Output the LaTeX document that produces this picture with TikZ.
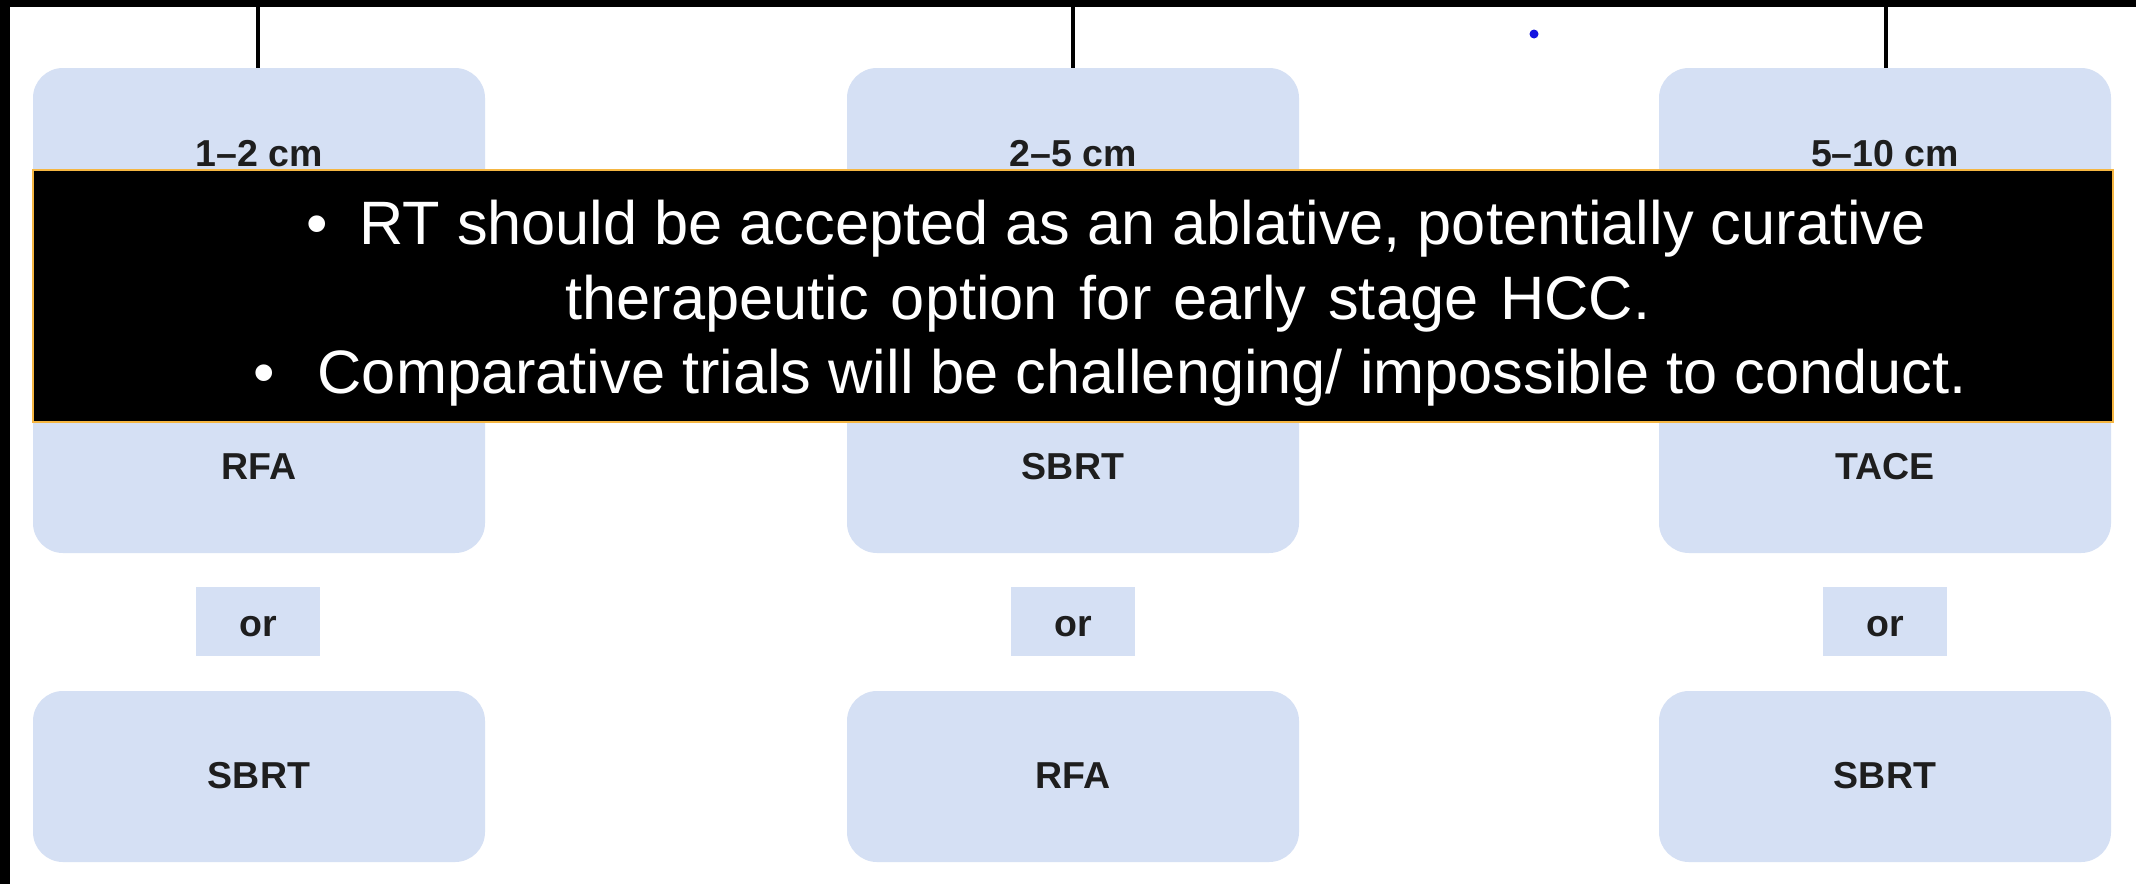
\documentclass[tikz,border=0pt]{standalone}
\usepackage{fontspec}
\setmainfont{Liberation Sans}
\definecolor{boxblue}{HTML}{D5E0F4}
\definecolor{notebd}{HTML}{F5B642}
\definecolor{lbltxt}{HTML}{1E1E1E}
\definecolor{dotblue}{HTML}{1414E0}
\begin{document}
\begin{tikzpicture}[x=1pt,y=-1pt,
  bigbox/.style={fill=boxblue, draw=none, rounded corners=30pt, minimum width=452pt, inner sep=0pt},
  orbox/.style={fill=boxblue, draw=none, minimum width=124pt, minimum height=69pt, inner sep=0pt},
  lbl/.style={inner sep=0pt, anchor=base, text=lbltxt, font=\fontsize{37.5pt}{44pt}\selectfont\bfseries},
  notetxt/.style={inner sep=0pt, text=white, font=\fontsize{61.3pt}{74pt}\selectfont},
  stem/.style={draw=black, line width=3.5pt}]
\useasboundingbox (0,0) rectangle (2136,884);
\fill[white] (0,0) rectangle (2136,884);
% black frame bands
\fill[black] (0,0) rectangle (2136,7);
\fill[black] (0,0) rectangle (10,884);
% blue dot
\fill[dotblue] (1534,34) circle (4.5);

% column 1
\node[bigbox, minimum height=485pt] (a1) at (259,310.5) {};
\node[orbox] (a2) at (258,621.5) {};
\node[bigbox, minimum height=171pt] (a3) at (259,776.5) {};
% column 2
\node[bigbox, minimum height=485pt] (b1) at (1073,310.5) {};
\node[orbox] (b2) at (1073,621.5) {};
\node[bigbox, minimum height=171pt] (b3) at (1073,776.5) {};
% column 3
\node[bigbox, minimum height=485pt] (c1) at (1885,310.5) {};
\node[orbox] (c2) at (1885,621.5) {};
\node[bigbox, minimum height=171pt] (c3) at (1885,776.5) {};

% stems
\coordinate (ta) at (258,7);
\coordinate (tb) at (1073,7);
\coordinate (tc) at (1886,7);
\draw[stem] (ta) -- (ta |- a1.north);
\draw[stem] (tb) -- (tb |- b1.north);
\draw[stem] (tc) -- (tc |- c1.north);

% labels
\node[lbl] (la1) at (259,166) {1–2 cm};
\node[lbl] (la2) at (259,479) {RFA};
\node[lbl] (la3) at (258,636) {or};
\node[lbl] (la4) at (259,788) {SBRT};
\node[lbl] (lb1) at (1073,166) {2–5 cm};
\node[lbl] (lb2) at (1073,479) {SBRT};
\node[lbl] (lb3) at (1073,636) {or};
\node[lbl] (lb4) at (1073,788) {RFA};
\node[lbl] (lc1) at (1885,166) {5–10 cm};
\node[lbl] (lc2) at (1885,479) {TACE};
\node[lbl] (lc3) at (1885,636) {or};
\node[lbl] (lc4) at (1885,788) {SBRT};

% overlay note
\node[fill=black, draw=notebd, line width=2pt, minimum width=2080pt, minimum height=252pt, inner sep=0pt] (note) at (1073,296) {};
\node[notetxt, anchor=base] (bul1) at (317,244) {•};
\node[notetxt, anchor=base east] (t1) at (1926,244) {RT should be accepted as an ablative, potentially curative};
\node[notetxt, anchor=base] (t2) at (1108,319) {\spaceskip=22pt therapeutic option for early stage HCC.};
\node[notetxt, anchor=base] (bul2) at (264,393) {•};
\node[notetxt, anchor=base east] (t3) at (1967,393) {Comparative trials will be challenging/ impossible to conduct.};
\end{tikzpicture}
\end{document}
